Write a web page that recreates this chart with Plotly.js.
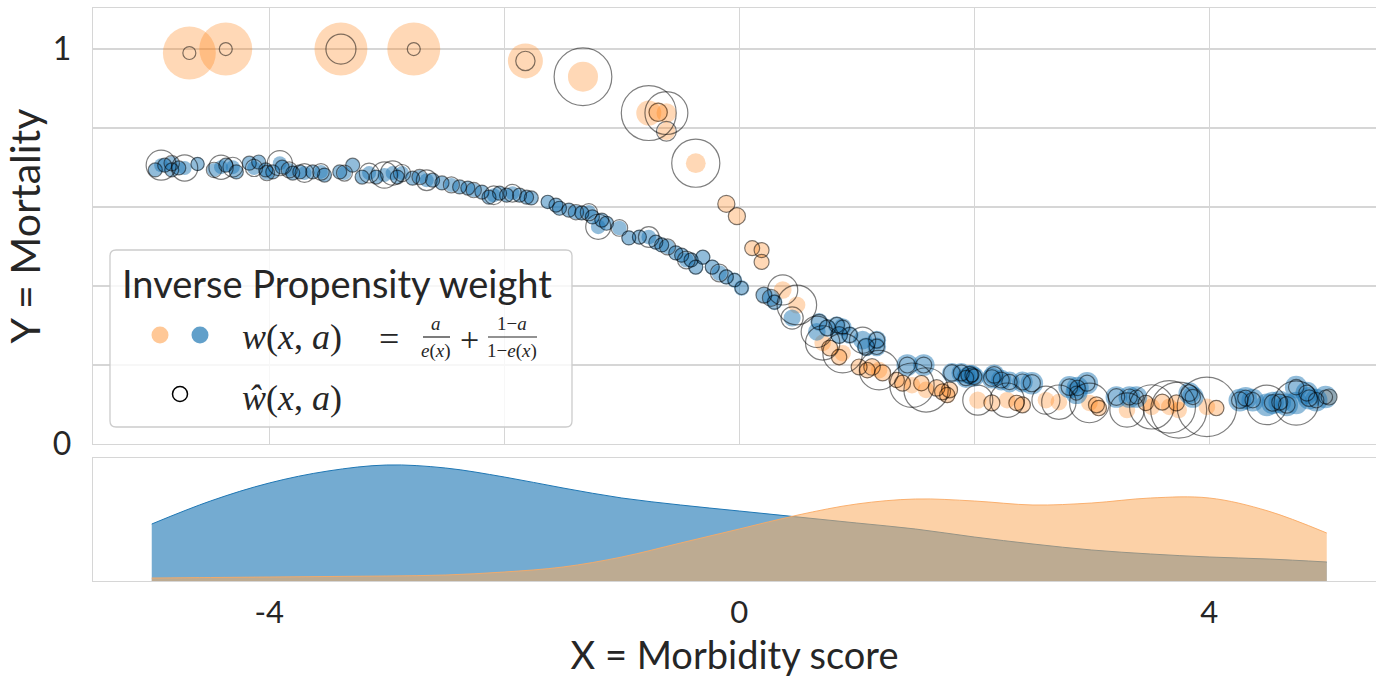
<!DOCTYPE html>
<html>
<head>
<meta charset="utf-8">
<script src="https://cdn.plot.ly/plotly-3.0.1.min.js"></script>
<style>html,body{margin:0;padding:0;background:#fff;}#chart{width:1376px;height:678px;}</style>
</head>
<body>
<div id="chart"></div>
<script>
// ---------- DATA ----------
// Control group (a = 0), blue
const blueX = [-4.97,-4.92,-4.89,-4.83,-4.83,-4.77,-4.72,-4.61,-4.47,-4.41,-4.37,-4.31,-4.28,-4.17,-4.09,-4.13,-4.03,-4.02,-3.97,-3.91,
  -3.89,-3.83,-3.80,-3.74,-3.70,-3.63,-3.56,-3.53,-3.40,-3.36,-3.29,-3.21,-3.15,-3.09,-3.02,-2.95,-2.91,-2.87,-2.78,-2.72,
  -2.66,-2.61,-2.53,-2.45,-2.38,-2.31,-2.26,-2.19,-2.13,-2.09,-2.04,-1.98,-1.93,-1.87,-1.81,-1.77,-1.63,-1.56,-1.53,-1.45,
  -1.39,-1.34,-1.28,-1.25,-1.17,-1.13,-1.20,-1.02,-0.94,-0.85,-0.77,-0.71,-0.66,-0.61,-0.54,-0.49,-0.45,-0.41,-0.37,-0.31,
  -0.23,-0.17,-0.11,-0.04,0.02,0.21,0.27,0.30,0.45,0.68,0.66,0.75,0.83,0.88,0.85,0.94,1.05,1.08,1.17,1.17,
  1.43,1.57,1.81,1.89,1.96,2.00,1.93,1.98,2.15,2.17,2.23,2.30,2.41,2.49,2.81,2.88,2.96,2.87,3.21,3.32,
  3.38,3.83,3.86,4.26,4.31,4.37,4.49,4.54,4.60,4.66,4.74,4.83,4.85,4.91,4.74,4.99];
const blueY = [0.694,0.706,0.706,0.711,0.694,0.699,0.699,0.709,0.694,0.701,0.706,0.701,0.689,0.711,0.714,0.699,0.694,0.686,0.689,0.711,
  0.701,0.694,0.686,0.689,0.686,0.689,0.689,0.681,0.689,0.686,0.706,0.676,0.686,0.676,0.681,0.686,0.676,0.686,0.673,0.676,
  0.668,0.668,0.661,0.656,0.651,0.648,0.643,0.638,0.625,0.630,0.635,0.630,0.635,0.630,0.625,0.623,0.613,0.605,0.597,0.592,
  0.587,0.585,0.587,0.575,0.567,0.559,0.550,0.547,0.522,0.524,0.524,0.511,0.504,0.499,0.484,0.478,0.466,0.466,0.448,0.473,
  0.448,0.433,0.423,0.415,0.395,0.377,0.370,0.359,0.319,0.309,0.284,0.294,0.301,0.296,0.276,0.276,0.263,0.246,0.263,0.246,
  0.200,0.200,0.180,0.180,0.175,0.170,0.167,0.175,0.167,0.175,0.162,0.157,0.157,0.154,0.144,0.142,0.154,0.129,0.119,0.119,
  0.119,0.129,0.119,0.111,0.116,0.111,0.099,0.104,0.106,0.099,0.144,0.129,0.116,0.111,0.104,0.119];
// true inverse propensity weight w(x,a) for the blue points
const blueW = [1,1,1,1,1,1,1,1,1,1,1,1,1,1,1,1,1,1,1,1,
  1,1,1,1,1,1,1,1,1,1,1,1,1,1,1,1,1,1,1,1,
  1,1,1,1,1,1,1,1,1,1,1,1,1,1,1,1,1,1.05,1.05,1.05,
  1.05,1.05,1.05,1.05,1.05,1.05,1.1,1.1,1.1,1.1,1.1,1.1,1.1,1.1,1.1,1.1,1.15,1.15,1.15,1.15,
  1.15,1.2,1.2,1.2,1.2,1.3,1.3,1.3,1.5,1.6,1.6,1.6,1.6,1.6,1.6,1.6,1.8,1.8,1.8,1.8,
  2.4,2.4,2.0,2.0,2.0,2.0,2.0,2.0,2.2,2.2,2.2,2.2,2.2,2.6,2.5,2.5,2.5,2.5,2.4,2.4,
  2.4,2.4,2.4,2.6,2.6,2.6,2.6,2.6,2.6,2.6,2.6,2.6,2.6,2.6,2.6,2.6];
// estimated weight w-hat(x,a) for the blue points
const blueWhat = [1.0,4.6,1.0,1.2,1.0,1.0,3.5,0.9,1.2,3.0,1.0,2.0,1.0,1.0,1.0,1.5,1.0,1.2,1.0,3.2,
  1.0,1.3,1.0,1.0,1.8,1.0,1.4,1.0,1.0,1.3,1.0,1.0,2.0,1.0,3.5,3.0,1.0,1.5,1.0,1.2,
  2.2,1.0,1.0,1.3,1.0,1.0,1.2,1.0,1.0,1.8,1.0,1.0,1.6,1.0,1.0,1.0,0.9,1.0,1.0,1.0,
  1.2,1.0,1.5,1.0,1.0,1.0,3.2,1.4,1.0,1.0,2.2,1.0,1.0,1.3,1.0,1.0,1.6,1.0,1.0,1.0,
  1.0,1.6,1.0,0.9,0.9,1.3,1.5,1.0,2.5,1.2,5.0,1.3,1.2,1.0,1.4,1.2,3.5,1.4,1.3,1.2,
  1.3,1.3,1.4,1.3,1.5,1.2,1.2,1.0,1.4,1.4,1.3,1.2,1.3,1.5,1.4,1.2,1.3,1.0,1.4,1.3,
  1.0,1.4,1.2,1.4,1.3,1.2,8.0,1.4,1.3,1.4,1.2,1.3,1.4,1.2,10.0,1.0];

// Treated group (a = 1), orange
const orangeX = [-4.68,-4.37,-3.39,-2.77,-1.82,-1.33,-0.77,-0.69,-0.62,-0.62,-0.37,-0.11,-0.02,0.11,0.19,0.19,0.37,0.49,0.71,0.77,
  0.88,0.85,1.02,1.09,1.13,1.19,1.22,1.34,1.39,1.47,1.55,1.59,1.68,1.73,1.77,1.79,2.03,2.15,2.28,2.36,
  2.41,2.61,2.72,2.98,3.04,3.06,3.30,3.46,3.51,3.60,3.66,3.72,3.74,3.98,4.06,5.02];
const orangeY = [0.99,1.00,1.00,1.00,0.97,0.93,0.838,0.840,0.838,0.792,0.711,0.608,0.577,0.496,0.491,0.461,0.390,0.352,0.256,0.243,
  0.230,0.220,0.195,0.187,0.195,0.187,0.180,0.162,0.154,0.149,0.154,0.137,0.142,0.132,0.124,0.137,0.111,0.104,0.111,0.104,
  0.099,0.111,0.106,0.104,0.099,0.091,0.086,0.104,0.094,0.106,0.094,0.104,0.086,0.094,0.091,0.119];
const orangeW = [14.3,14.3,14.3,14.3,6.25,4.6,3.2,2.0,2.0,1.6,2.0,1.5,1.5,1.15,1.15,1.15,1.6,1.5,1.4,1.4,
  1.4,1.4,1.4,1.4,1.4,1.4,1.4,1.4,1.4,1.4,1.4,1.4,1.4,1.4,1.4,1.4,1.5,1.4,1.4,1.4,
  1.4,1.4,1.4,1.4,1.4,1.4,1.4,1.4,1.4,1.4,1.4,1.4,1.4,1.4,1.3,1.2];
const orangeWhat = [0.86,0.86,4.6,0.86,1.9,17,15.4,1.7,9.4,2.0,11.8,1.5,1.5,1.15,1.15,1.15,4.6,8,6,1.3,
  8,1.2,1.3,1.2,1.4,8,1.3,1.2,1.3,10,1.2,10,1.4,1.3,1.2,1.3,4.6,1.3,6,1.2,
  1.3,4,6,8,1.3,1.2,6,1.2,10,1.3,14,1.3,16,18,1.2,1.3];

// Density of the morbidity score in each group (bottom panel)
const kdeX = [-5,-4.5,-4,-3.5,-3,-2.5,-2,-1.5,-1,-0.5,0,0.5,1,1.5,2,2.5,3,3.5,4,4.5,5];
const kdeBlue = [0.114,0.160,0.196,0.220,0.232,0.226,0.208,0.186,0.166,0.152,0.140,0.128,0.116,0.104,0.088,0.074,0.062,0.054,0.048,0.044,0.038];
const kdeOrange = [0.006,0.007,0.008,0.009,0.010,0.012,0.018,0.028,0.048,0.076,0.104,0.132,0.154,0.164,0.160,0.152,0.156,0.166,0.166,0.140,0.096];

const yTickVals = [0,0.2,0.4,0.6,0.8,1.0];
const yTickText = ['0','','','','','1'];
const xGridVals = [-4,-2,0,2,4];
const xTickVals = [-4,0,4];
const xTickText = ['-4','0','4'];

// ---------- STYLE / LAYOUT ----------
const SIZE_K = 14;               // marker diameter for weight 1 (area proportional to weight)
const sz = w => w.map(v => SIZE_K*Math.sqrt(v));
const BLUE = 'rgba(31,119,180,0.70)';
const ORANGE = 'rgba(255,127,14,0.43)';
const RING = 'rgba(0,0,0,0.72)';
const GRID = '#d6d6d6';
const TXT = '#262626';
const SANS = 'Lato, "Open Sans", sans-serif';
const SERIF = '"Liberation Serif", "DejaVu Serif", serif';

const W = 1376, H = 678;
const M = {l:93, r:0, t:8, b:97};
const PW = W - M.l - M.r, PH = H - M.t - M.b;
const PX_PER_UNIT = 117.5;
const xRange = [-5.5, -5.5 + PW/PX_PER_UNIT];
const px = v => (v - M.l)/PW;           // pixel -> paper x
const py = v => (H - M.b - v)/PH;       // pixel -> paper y

const traces = [
  {x: orangeX, y: orangeY, type:'scatter', mode:'markers', xaxis:'x', yaxis:'y', hoverinfo:'skip', showlegend:false,
   marker:{size: sz(orangeW), color: ORANGE, line:{width:0}}},
  {x: blueX, y: blueY, type:'scatter', mode:'markers', xaxis:'x', yaxis:'y', hoverinfo:'skip', showlegend:false,
   marker:{size: sz(blueW), color: BLUE, line:{width:0}}},
  {x: orangeX, y: orangeY, type:'scatter', mode:'markers', xaxis:'x', yaxis:'y', hoverinfo:'skip', showlegend:false,
   marker:{size: sz(orangeWhat), symbol:'circle-open', color: RING, line:{width:1.2}}},
  {x: blueX, y: blueY, type:'scatter', mode:'markers', xaxis:'x', yaxis:'y', hoverinfo:'skip', showlegend:false,
   marker:{size: sz(blueWhat), symbol:'circle-open', color: RING, line:{width:1.2}}},
  {x: kdeX, y: kdeBlue, type:'scatter', mode:'lines', xaxis:'x2', yaxis:'y2', fill:'tozeroy', hoverinfo:'skip', showlegend:false,
   line:{color:'rgb(31,119,180)', width:1, shape:'spline', smoothing:1}, fillcolor:'rgba(31,119,180,0.62)'},
  {x: kdeX, y: kdeOrange, type:'scatter', mode:'lines', xaxis:'x2', yaxis:'y2', fill:'tozeroy', hoverinfo:'skip', showlegend:false,
   line:{color:'rgba(250,170,100,0.9)', width:1, shape:'spline', smoothing:1}, fillcolor:'rgba(250,172,95,0.55)'}
];

const topBottom = 444, botTop = 458;
const axisCommon = {showline:true, mirror:true, linecolor:GRID, linewidth:1.3, zeroline:false, fixedrange:true};

// rounded legend box
function roundRect(x0,y0,x1,y1,r){
  const X = v=>px(v).toFixed(5), Y = v=>py(v).toFixed(5);
  return `M${X(x0+r)},${Y(y0)} L${X(x1-r)},${Y(y0)} Q${X(x1)},${Y(y0)} ${X(x1)},${Y(y0+r)} L${X(x1)},${Y(y1-r)} Q${X(x1)},${Y(y1)} ${X(x1-r)},${Y(y1)} L${X(x0+r)},${Y(y1)} Q${X(x0)},${Y(y1)} ${X(x0)},${Y(y1-r)} L${X(x0)},${Y(y0+r)} Q${X(x0)},${Y(y0)} ${X(x0+r)},${Y(y0)} Z`;
}
function dot(cx, cy, d, fill, line){
  return {type:'circle', xref:'paper', yref:'paper', xsizemode:'pixel', ysizemode:'pixel',
    xanchor: px(cx), yanchor: py(cy), x0:-d/2, x1:d/2, y0:-d/2, y1:d/2,
    fillcolor: fill, line: line};
}
function hline(x0,x1,y){
  return {type:'line', xref:'paper', yref:'paper', x0:px(x0), x1:px(x1), y0:py(y), y1:py(y), line:{color:TXT, width:1.2}};
}
function label(text, x, y, size, family, xanchor){
  return {text:text, xref:'paper', yref:'paper', x:px(x), y:py(y), xanchor:xanchor||'center', yanchor:'middle',
    showarrow:false, font:{size:size, family:family, color:TXT}};
}

const layout = {
  width:W, height:H, margin:M, paper_bgcolor:'#fff', plot_bgcolor:'#fff', showlegend:false,
  xaxis: Object.assign({}, axisCommon, {domain:[0,1], anchor:'y', range:xRange, tickvals:xGridVals,
    showticklabels:false, ticks:'', showgrid:true, gridcolor:GRID, gridwidth:1.3}),
  yaxis: Object.assign({}, axisCommon, {domain:[py(topBottom),1], anchor:'x', range:[0,1.104], tickvals:yTickVals, ticktext:yTickText,
    showgrid:true, gridcolor:GRID, gridwidth:1.3, ticks:'outside', ticklen:14, tickcolor:'rgba(0,0,0,0)',
    tickfont:{size:32, family:SANS, color:TXT},
    title:{text:'Y = Mortality', font:{size:41, family:SANS, color:TXT}, standoff:4}}),
  xaxis2: Object.assign({}, axisCommon, {domain:[0,1], anchor:'y2', range:xRange, tickvals:xTickVals, ticktext:xTickText,
    showgrid:false, ticks:'outside', ticklen:3, tickcolor:'rgba(0,0,0,0)', tickfont:{size:31, family:SANS, color:TXT},
    title:{text:'X = Morbidity score', font:{size:38, family:SANS, color:TXT}, standoff:14}}),
  yaxis2: Object.assign({}, axisCommon, {domain:[0, py(botTop)], anchor:'x2', range:[0,0.246], showticklabels:false, showgrid:false, ticks:''}),
  shapes: [
    {type:'path', xref:'paper', yref:'paper', path: roundRect(110,250,572,427,6), fillcolor:'rgba(255,255,255,0.8)', line:{color:'#cccccc', width:1.3}},
    dot(160,335,17,ORANGE,{width:0}),
    dot(200,335,17,BLUE,{width:0}),
    dot(180,394,15,'rgba(0,0,0,0)',{color:'#000', width:1.5}),
    hline(423,450,337),
    hline(488,537,337)
  ],
  annotations: [
    label('Inverse Propensity weight', 337, 283, 38, SANS),
    label('<i>w</i>(<i>x</i>, <i>a</i>)', 240, 337, 36, SERIF, 'left'),
    label('=', 389, 339, 36, SERIF),
    label('<i>a</i>', 436, 323, 19, SERIF),
    label('<i>e</i>(<i>x</i>)', 436, 351, 19, SERIF),
    label('+', 469, 339, 34, SERIF),
    label('1−<i>a</i>', 512, 323, 19, SERIF),
    label('1−<i>e</i>(<i>x</i>)', 512, 351, 19, SERIF),
    label('<i>ŵ</i>(<i>x</i>, <i>a</i>)', 240, 398, 36, SERIF, 'left')
  ]
};

Plotly.newPlot('chart', traces, layout, {staticPlot:true, displayModeBar:false});
</script>
</body>
</html>
